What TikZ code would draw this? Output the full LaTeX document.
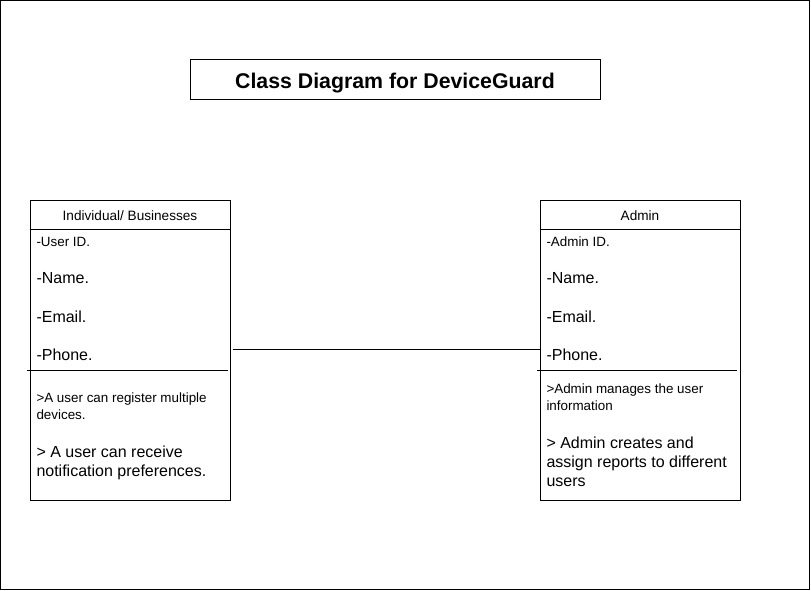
\documentclass[tikz,border=0pt]{standalone}
\usepackage{fontspec}
\setmainfont{Liberation Sans}
\tikzset{
    classbox/.style={draw, line width=1pt, minimum width=200pt, minimum height=300pt, inner sep=0pt},
    header/.style={anchor=base, inner sep=0pt, font=\fontsize{13.6}{16}\selectfont},
    attr/.style={anchor=base west, inner sep=0pt, font=\fontsize{16}{18}\selectfont},
    smallattr/.style={anchor=base west, inner sep=0pt, font=\fontsize{13.4}{16}\selectfont},
    smallnote/.style={anchor=north west, inner sep=0pt, align=left, font=\fontsize{13.4}{16.8}\selectfont},
    note/.style={anchor=north west, inner sep=0pt, align=left, font=\fontsize{16}{18.5}\selectfont}
}
\begin{document}
\begin{tikzpicture}[x=1pt, y=-1pt, line width=1pt]
        \useasboundingbox (0,0) rectangle (811,591);
        \draw (0.5,0.5) rectangle (809.5,589.5);
        \node[draw, minimum width=410pt, minimum height=40pt, inner sep=0pt, text height=17.2pt, text depth=0pt, font=\fontsize{21.3}{24}\selectfont\bfseries] (title) at (395,80) {Class Diagram for DeviceGuard};
        \node[classbox] (user) at (130,350) {};
        \node[classbox] (admin) at (640,350) {};
        \draw ([yshift=-30pt]user.north west) -- ([yshift=-30pt]user.north east);
        \draw ([yshift=-30pt]admin.north west) -- ([yshift=-30pt]admin.north east);
        \node[header] (userhead) at (130,220.5) {Individual/ Businesses};
        \node[header] (adminhead) at (640,220.5) {Admin};
        \node[smallattr] (userid) at (36,246.5) {-User ID.};
        \node[attr] (username) at (36,283.5) {-Name.};
        \node[attr] (useremail) at (36,322) {-Email.};
        \node[attr] (userphone) at (36,360.5) {-Phone.};
        \draw (27,370) -- (228,370);
        \node[smallnote] (usernote1) at (36,392.5) {>A user can register multiple\\devices.};
        \node[note] (usernote2) at (36,445.5) {> A user can receive\\notification preferences.};
        \node[smallattr] (adminid) at (546,246.5) {-Admin ID.};
        \node[attr] (adminname) at (546,283.5) {-Name.};
        \node[attr] (adminemail) at (546,322) {-Email.};
        \node[attr] (adminphone) at (546,360.5) {-Phone.};
        \draw (537,370) -- (737,370);
        \node[smallnote] (adminnote1) at (546,383.3) {>Admin manages the user\\information};
        \node[note, font=\fontsize{16}{19}\selectfont] (adminnote2) at (546,436.5) {> Admin creates and\\assign reports to different\\users};
        \coordinate (assoc) at (232.5,349.5);
        \draw (assoc) -- (assoc -| admin.west);
    \end{tikzpicture}
\end{document}
